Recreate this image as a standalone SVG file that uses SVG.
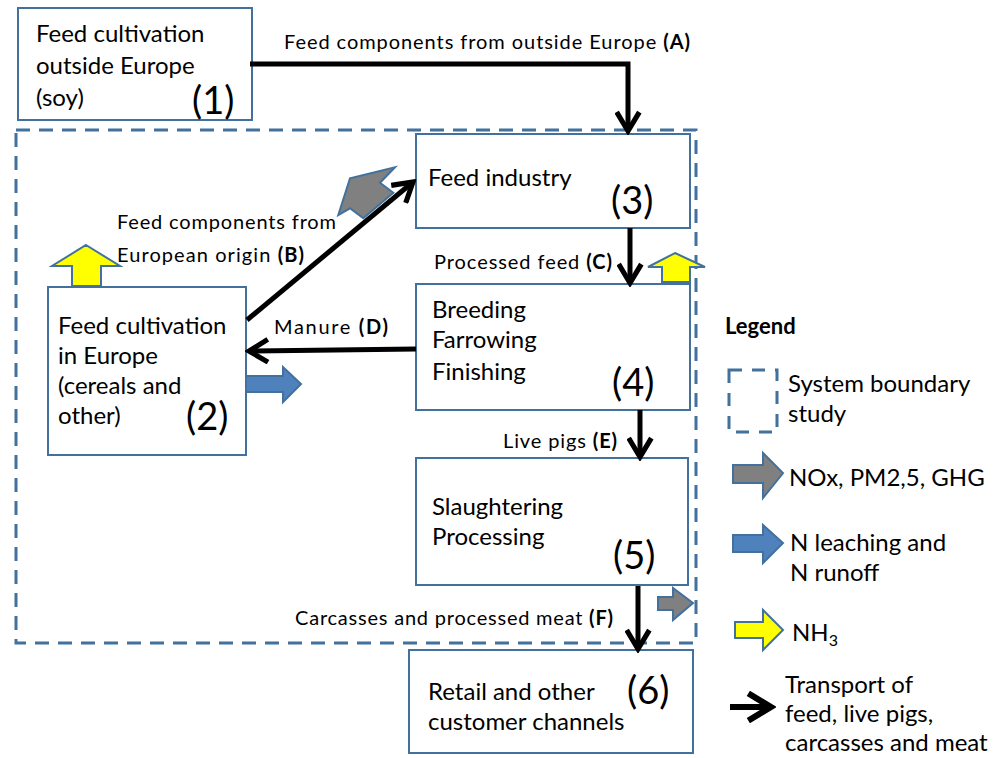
<svg xmlns="http://www.w3.org/2000/svg" width="1005" height="758" viewBox="0 0 1005 758">
<defs>
<style>
.box{fill:#fff;stroke:#41719c;stroke-width:2}
.t{font-family:Lato,"Liberation Sans",sans-serif;font-size:24px;fill:#000}
.n{font-family:Lato,"Liberation Sans",sans-serif;font-size:38px;fill:#000}
.l{font-family:Lato,"Liberation Sans",sans-serif;font-size:20px;fill:#000}
.b{font-weight:bold}
.con{fill:none;stroke:#000;stroke-width:5;marker-end:url(#ah)}
.bnd{fill:none;stroke:#41719c;stroke-width:3;stroke-dasharray:14 9}
.ba{stroke:#41719c;stroke-width:2;stroke-linejoin:miter}
.gray{fill:#808080}
.blue{fill:#4f81bd}
.yel{fill:#ffff00}
</style>
<marker id="ah" viewBox="0 0 10 10" refX="8.5" refY="5" markerWidth="5.4" markerHeight="5.4" orient="auto" markerUnits="strokeWidth">
<path d="M1.5,0.8 L8.5,5 L1.5,9.2" fill="none" stroke="#000" stroke-width="1.9"/>
</marker>
</defs>

<rect id="boundary" class="bnd" x="16" y="130" width="680" height="513"/>

<g id="emissions">
<polygon class="ba gray" points="338.3,215 350,178.3 395,167.3 380,182.7 393.3,192.7 363.3,218.3 350,208.3"/>
<polygon class="ba yel" points="86,245 120,266 101,266 101,286 72,286 72,266 52,266"/>
<polygon class="ba yel" points="675,253 705,267 690,267 690,282 662,282 662,267 648,267"/>
<polygon class="ba blue" points="246,376 283,376 283,367 301,384 283,402 283,392 246,392"/>
<polygon class="ba gray" points="658,597 673,597 673,588 693,603 673,620 673,610 658,610"/>
</g>

<g id="node1">
<rect class="box" x="18" y="8" width="234" height="112"/>
<text class="t" x="36" y="42">Feed cultivation</text>
<text class="t" x="36" y="74">outside Europe</text>
<text class="t" x="36" y="106">(soy)</text>
<text class="n" x="192" y="114">(1)</text>
</g>

<g id="node2">
<rect class="box" x="48" y="287" width="198" height="168"/>
<text class="t" x="58" y="334">Feed cultivation</text>
<text class="t" x="58" y="364">in Europe</text>
<text class="t" x="58" y="394">(cereals and</text>
<text class="t" x="58" y="424">other)</text>
<text class="n" x="186" y="430">(2)</text>
</g>

<g id="node3">
<rect class="box" x="416" y="134" width="274" height="94"/>
<text class="t" x="428" y="186">Feed industry</text>
<text class="n" x="611" y="214">(3)</text>
</g>

<g id="node4">
<rect class="box" x="416" y="284" width="274" height="126"/>
<text class="t" x="432" y="318">Breeding</text>
<text class="t" x="432" y="348">Farrowing</text>
<text class="t" x="432" y="380">Finishing</text>
<text class="n" x="612" y="396">(4)</text>
</g>

<g id="node5">
<rect class="box" x="416" y="458" width="272" height="127"/>
<text class="t" x="432" y="515">Slaughtering</text>
<text class="t" x="432" y="545">Processing</text>
<text class="n" x="613" y="569">(5)</text>
</g>

<g id="node6">
<rect class="box" x="409" y="650" width="284" height="103"/>
<text class="t" x="428" y="700">Retail and other</text>
<text class="t" x="428" y="730">customer channels</text>
<text class="n" x="627" y="704">(6)</text>
</g>

<g id="connectors">
<polyline class="con" points="250,64 628,64 628,131"/>
<line class="con" x1="247" y1="320" x2="413" y2="182"/>
<line class="con" x1="630" y1="228" x2="630" y2="283"/>
<line class="con" x1="416" y1="349" x2="249" y2="351"/>
<line class="con" x1="640" y1="410" x2="640" y2="457"/>
<line class="con" x1="638" y1="586" x2="638" y2="649"/>
</g>

<g id="labels">
<text class="l" x="284" y="49" textLength="406" lengthAdjust="spacing">Feed components from outside Europe <tspan class="b">(A)</tspan></text>
<text class="l" x="117" y="229" textLength="219" lengthAdjust="spacing">Feed components from</text>
<text class="l" x="117" y="262" textLength="187" lengthAdjust="spacing">European origin <tspan class="b">(B)</tspan></text>
<text class="l" x="434" y="269" textLength="178" lengthAdjust="spacing">Processed feed <tspan class="b">(C)</tspan></text>
<text class="l" x="274" y="334" textLength="114" lengthAdjust="spacing">Manure <tspan class="b">(D)</tspan></text>
<text class="l" x="503" y="448" textLength="114" lengthAdjust="spacing">Live pigs <tspan class="b">(E)</tspan></text>
<text class="l" x="295" y="625" textLength="318" lengthAdjust="spacing">Carcasses and processed meat <tspan class="b">(F)</tspan></text>
</g>

<g id="legend">
<text class="t b" x="725" y="334" style="font-size:22px">Legend</text>
<rect class="bnd" x="729" y="370" width="48" height="62" style="stroke-dasharray:13 10"/>
<text class="t" x="788" y="392">System boundary</text>
<text class="t" x="788" y="422">study</text>
<polygon class="ba gray" points="733,465 763,465 763,453 783,473 763,498 763,483 733,483"/>
<text class="t" x="789" y="486">NOx, PM2,5, GHG</text>
<polygon class="ba blue" points="733,535 763,535 763,525 783,543 763,563 763,552 733,552"/>
<text class="t" x="790" y="551">N leaching and</text>
<text class="t" x="790" y="581">N runoff</text>
<polygon class="ba yel" points="735,622 763,622 763,610 783,630 763,650 763,638 735,638"/>
<text class="t" x="792" y="641">NH<tspan style="font-size:16px" dy="5">3</tspan></text>
<line class="con" x1="730" y1="707" x2="771" y2="707" style="stroke-width:6"/>
<text class="t" x="785" y="693">Transport of</text>
<text class="t" x="785" y="722">feed, live pigs,</text>
<text class="t" x="785" y="751">carcasses and meat</text>
</g>
</svg>
